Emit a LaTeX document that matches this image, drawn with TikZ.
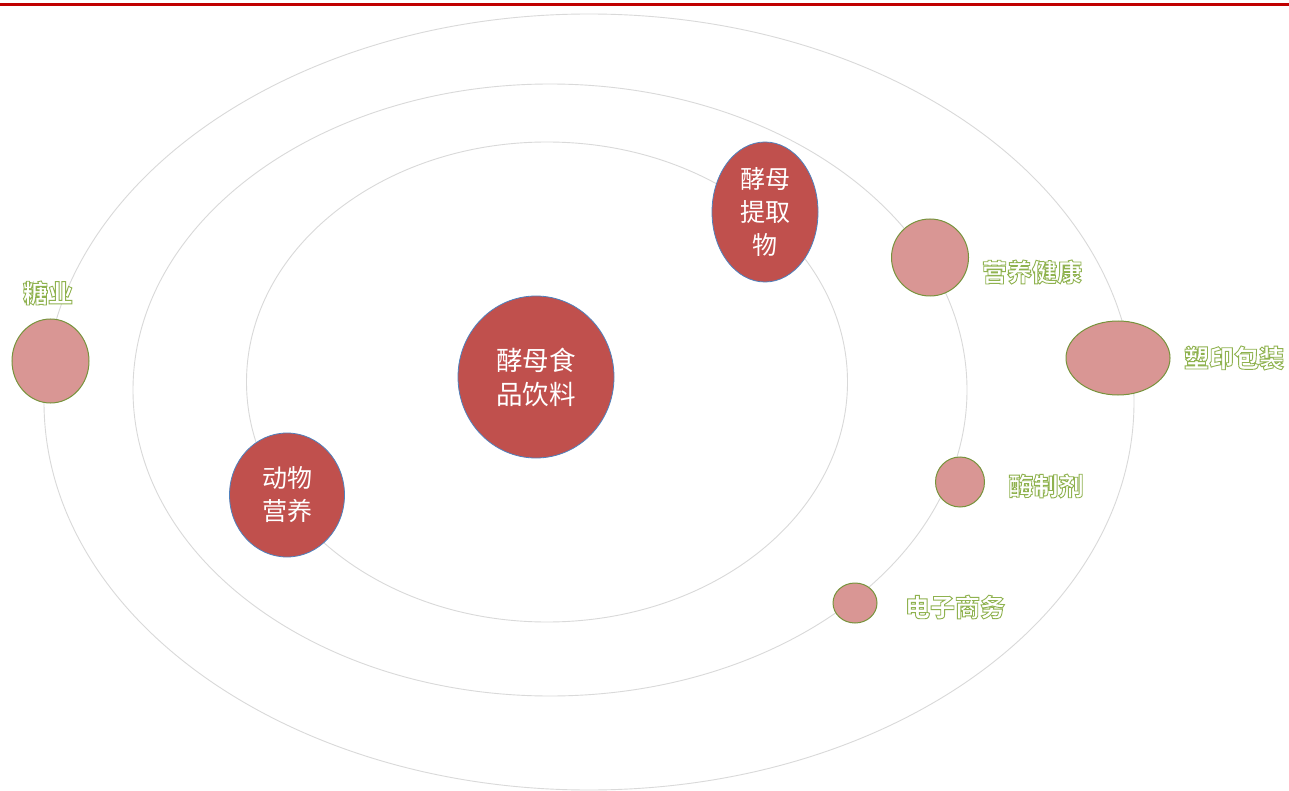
\documentclass[tikz,border=0pt]{standalone}
\usepackage{fontspec}
\newfontfamily\cjk{Noto Sans CJK SC}
\definecolor{topred}{HTML}{C00000}
\definecolor{orbit}{HTML}{D9D9D9}
\definecolor{bigfill}{HTML}{C0504D}
\definecolor{bigline}{HTML}{4F81BD}
\definecolor{smallfill}{HTML}{D99694}
\definecolor{smallline}{HTML}{77933C}
\definecolor{olgreen}{HTML}{9BBB59}
\usetikzlibrary{shapes.geometric}
\newcommand\outlinetext[1]{\special{pdf:literal 2 Tr 0.56 0.70 0.31 RG 0.9 w}#1\special{pdf:literal 0 Tr}}
\tikzset{
  orbitline/.style={draw=orbit, line width=0.9pt},
  bigball/.style={ellipse, draw=bigline, line width=0.8pt, fill=bigfill, inner sep=0pt,
     text=white, align=center, font=\cjk\fontsize{25}{33}\selectfont},
  smallball/.style={ellipse, draw=smallline, line width=1pt, fill=smallfill, inner sep=0pt},
  lbl/.style={inner sep=0pt, text=white, font=\cjk\bfseries\fontsize{25}{28}\selectfont},
}
\begin{document}
\begin{tikzpicture}[x=1pt,y=-1pt]
\useasboundingbox (0,0) rectangle (1289,791);
\fill[white] (0,0) rectangle (1289,791);
\draw[topred, line width=2.8pt] (0,4.5) coordinate (rl) -- (1289,4.5) coordinate (rr);
% orbits
\draw[orbitline] (589,402) ellipse [x radius=545, y radius=388];
\draw[orbitline] (550,390) ellipse [x radius=417, y radius=306];
\draw[orbitline] (547,382) ellipse [x radius=300.5, y radius=240];
% big balls
\node[bigball, minimum width=156pt, minimum height=162pt, font=\cjk\fontsize{26.5}{34}\selectfont] (core) at (536,377) {酵母食\\品饮料};
\node[bigball, minimum width=106pt, minimum height=140pt] (extract) at (765,212) {酵母\\提取\\物};
\node[bigball, minimum width=115pt, minimum height=124pt] (animal) at (287,495) {动物\\营养};
% small balls
\node[smallball, minimum width=77pt, minimum height=84pt] (sugar) at (50.5,361) {};
\node[smallball, minimum width=77pt, minimum height=77pt] (health) at (930,257.5) {};
\node[smallball, minimum width=104pt, minimum height=74pt] (pack) at (1118,358) {};
\node[smallball, minimum width=49pt, minimum height=50pt] (enzyme) at (960,482) {};
\node[smallball, minimum width=44pt, minimum height=40pt] (ecom) at (855,603) {};
% labels
\node[lbl] (tsugar) at (48,293) {\outlinetext{糖业}};
\node[lbl] (thealth) at (1032,272) {\outlinetext{营养健康}};
\node[lbl] (tpack) at (1234,358) {\outlinetext{塑印包装}};
\node[lbl] (tenzyme) at (1046,486) {\outlinetext{酶制剂}};
\node[lbl] (tecom) at (955,607) {\outlinetext{电子商务}};
\end{tikzpicture}
\end{document}
